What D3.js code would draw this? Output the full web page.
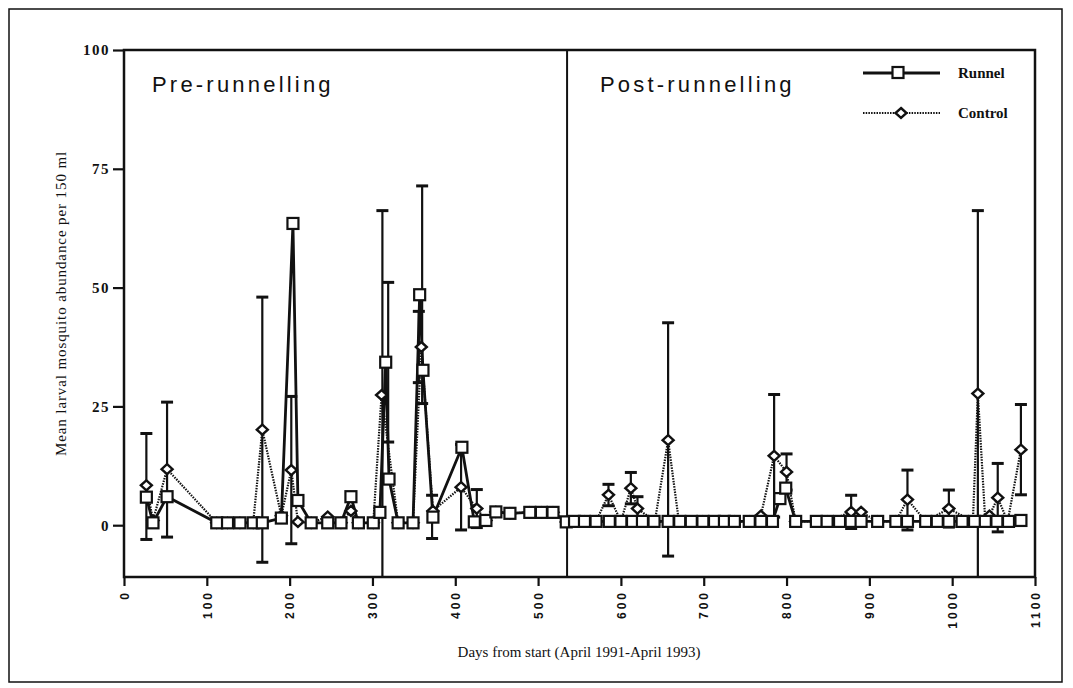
<!doctype html>
<html>
<head>
<meta charset="UTF-8">
<script src="https://d3js.org/d3.v7.min.js"></script>
<style>
  body { margin: 0; background: #fff; }
</style>
</head>
<body>
<script>
// runnel (squares, solid line)
var runnelDays = [27, 35, 52, 112, 125, 140, 156, 167, 190, 204, 210, 226, 246, 262, 274, 283, 301, 309, 316, 320, 331,
  349, 357, 361, 373, 408, 423, 437, 449, 466, 490, 504, 518, 534,
  544, 556, 570, 586, 600, 614, 626, 640, 657, 671, 685, 699, 713, 725, 737, 755, 769, 783, 792, 799, 811,
  836, 849, 864, 878, 890, 910, 932, 946, 968, 982, 996, 1012, 1027, 1040, 1054, 1068, 1083]
var runnelVals = [5.9, 0.5, 6, 0.5, 0.5, 0.5, 0.5, 0.5, 1.5, 63.5, 5.2, 0.5, 0.5, 0.5, 6, 0.5, 0.5, 2.7, 34.3, 9.7, 0.5,
  0.5, 48.5, 32.6, 1.7, 16.4, 0.7, 1, 2.8, 2.5, 2.7, 2.7, 2.7, 0.7,
  0.8, 0.8, 0.8, 0.8, 0.8, 0.8, 0.8, 0.8, 0.8, 0.8, 0.8, 0.8, 0.8, 0.8, 0.8, 0.8, 0.8, 0.8, 5.6, 7.8, 0.8,
  0.8, 0.8, 0.8, 0.8, 0.8, 0.8, 0.8, 0.8, 0.8, 0.8, 0.8, 0.8, 0.8, 0.8, 0.8, 0.8, 1]

// control (diamonds, dotted line)
var controlDays = [27, 35, 52, 112, 125, 140, 156, 167, 190, 202, 210, 226, 246, 262, 274, 283, 301, 311, 331,
  349, 359, 373, 407, 426, 437, 449, 466, 490, 504, 518, 534,
  556, 570, 585, 600, 612, 620, 641, 657, 670, 699, 737, 755, 769, 785, 800, 811,
  849, 878, 890, 910, 932, 946, 968, 996, 1025, 1031, 1040, 1045, 1055, 1067, 1083]
var controlVals = [8.4, 1, 11.8, 0.5, 0.5, 0.5, 0.5, 20.1, 2, 11.6, 0.7, 0.5, 1.8, 0.5, 3, 0.5, 0.5, 27.4, 0.5,
  0.5, 37.5, 3, 8, 3.5, 1, 2.8, 2.5, 2.7, 2.7, 2.7, 0.7,
  0.8, 0.8, 6.4, 0.8, 7.8, 3.5, 0.8, 17.9, 0.8, 0.8, 0.8, 0.8, 2, 14.6, 11.2, 0.8,
  0.8, 2.8, 2.8, 0.8, 0.8, 5.4, 0.8, 3.5, 0.8, 27.7, 0.8, 2, 5.8, 0.8, 15.9]

// error bars: day, low, high
var errDays = [27, 52, 167, 202, 312, 319, 356, 360, 372, 407, 426, 585, 612, 620, 657, 785, 800, 878, 946, 996, 1031, 1055, 1083]
var errLow  = [-3, -2.5, -7.8, -3.9, -11.4, 17.5, 30, 25.6, -2.8, -1, -0.5, 4.1, 4.5, 1, -6.5, 1.7, 7.4, -0.7, -1, -0.4, -11.4, -1.4, 6.4]
var errHigh = [19.3, 25.9, 48, 27.1, 66.2, 51.1, 45, 71.4, 6.3, 17, 7.5, 8.6, 11.1, 6, 42.6, 27.5, 15, 6.3, 11.6, 7.4, 66.2, 13, 25.4]

var yTicks = [0, 25, 50, 75, 100]
var xTicks = d3.range(0, 1101, 100)
var splitDay = 535

var width = 1073, height = 688
var pl = 124, pr = 1035, pt = 50, pb = 577

var svg = d3.select('body').append('svg')
  .attr('width', width)
  .attr('height', height)

var x = d3.scaleLinear().domain([0, 1100]).range([pl, pr])
var y = d3.scaleLinear().domain([-10.9, 100]).range([pb, pt])

// outer border
svg.append('rect')
  .attr('x', 9).attr('y', 9)
  .attr('width', 1053).attr('height', 673)
  .attr('fill', 'none').attr('stroke', '#111').attr('stroke-width', 1.5)

svg.append('clipPath').attr('id', 'plot')
  .append('rect')
  .attr('x', pl).attr('y', pt)
  .attr('width', pr - pl).attr('height', pb - pt)

// axes
var yAxis = svg.append('g')
  .attr('transform', 'translate(' + pl + ',0)')
  .call(d3.axisLeft(y).tickValues(yTicks).tickSize(11).tickPadding(3))
yAxis.select('.domain').remove()
yAxis.selectAll('line').attr('stroke', '#111').attr('stroke-width', 2.2)
yAxis.selectAll('text')
  .style('font-family', '"Liberation Serif", serif')
  .style('font-weight', 'bold')
  .style('font-size', '15px')
  .style('letter-spacing', '1.5px')
  .attr('fill', '#111')

var xAxis = svg.append('g')
  .attr('transform', 'translate(0,' + pb + ')')
  .call(d3.axisBottom(x).tickValues(xTicks).tickSize(9).tickFormat(d3.format('d')))
xAxis.select('.domain').remove()
xAxis.selectAll('line').attr('stroke', '#111').attr('stroke-width', 2.2)
xAxis.selectAll('text')
  .style('font-family', '"Liberation Sans", sans-serif')
  .style('font-weight', 'bold')
  .style('font-size', '12px')
  .style('letter-spacing', '3px')
  .attr('fill', '#111')
  .attr('text-anchor', 'end')
  .attr('dy', '0.35em')
  .attr('y', 0)
  .attr('x', -13)
  .attr('transform', 'rotate(-90)')

// frame + divider
svg.append('rect')
  .attr('x', pl).attr('y', pt)
  .attr('width', pr - pl).attr('height', pb - pt)
  .attr('fill', 'none').attr('stroke', '#111').attr('stroke-width', 2.5)
svg.append('line')
  .attr('x1', x(splitDay)).attr('x2', x(splitDay))
  .attr('y1', pt).attr('y2', pb)
  .attr('stroke', '#111').attr('stroke-width', 2)

svg.append('text')
  .text('Pre-runnelling')
  .attr('x', 152).attr('y', 92)
  .style('font-family', '"Liberation Sans", sans-serif')
  .style('font-size', '22px')
  .style('letter-spacing', '3.2px')
  .attr('fill', '#111')
svg.append('text')
  .text('Post-runnelling')
  .attr('x', 600).attr('y', 92)
  .style('font-family', '"Liberation Sans", sans-serif')
  .style('font-size', '22px')
  .style('letter-spacing', '3.2px')
  .attr('fill', '#111')

svg.append('text')
  .text('Mean larval mosquito abundance per 150 ml')
  .attr('transform', 'translate(66,' + ((pt + pb) / 2 - 10) + ')rotate(-90)')
  .attr('text-anchor', 'middle')
  .style('font-family', '"Liberation Serif", serif')
  .style('font-size', '15px')
  .style('letter-spacing', '0.9px')
  .attr('fill', '#111')

svg.append('text')
  .text('Days from start (April 1991-April 1993)')
  .attr('x', 579).attr('y', 657)
  .attr('text-anchor', 'middle')
  .style('font-family', '"Liberation Serif", serif')
  .style('font-size', '15px')
  .attr('fill', '#111')

// data
var plot = svg.append('g').attr('clip-path', 'url(#plot)')

var runnel = runnelDays.map((d, i) => [d, runnelVals[i]])
var control = controlDays.map((d, i) => [d, controlVals[i]])
var line = d3.line().x(d => x(d[0])).y(d => y(d[1]))

errDays.forEach(function(d, i){
  var g = plot.append('g').attr('stroke', '#111')
  g.append('line')
    .attr('x1', x(d)).attr('x2', x(d))
    .attr('y1', y(errLow[i])).attr('y2', y(errHigh[i]))
    .attr('stroke-width', 2.2)
  g.append('line')
    .attr('x1', x(d) - 6).attr('x2', x(d) + 6)
    .attr('y1', y(errHigh[i])).attr('y2', y(errHigh[i]))
    .attr('stroke-width', 3)
  g.append('line')
    .attr('x1', x(d) - 6).attr('x2', x(d) + 6)
    .attr('y1', y(errLow[i])).attr('y2', y(errLow[i]))
    .attr('stroke-width', 3)
})

plot.append('path')
  .datum(control)
  .attr('d', line)
  .attr('fill', 'none')
  .attr('stroke', '#111')
  .attr('stroke-width', 2.2)
  .attr('stroke-dasharray', '1.5,1.2')

plot.append('path')
  .datum(runnel)
  .attr('d', line)
  .attr('fill', 'none')
  .attr('stroke', '#111')
  .attr('stroke-width', 2.8)

var diamond = 'M0,-5L5.5,0L0,5L-5.5,0Z'
plot.selectAll('.ctl')
  .data(control)
  .enter()
  .append('path')
  .attr('class', 'ctl')
  .attr('d', diamond)
  .attr('transform', d => 'translate(' + x(d[0]) + ',' + y(d[1]) + ')')
  .attr('fill', '#fff')
  .attr('stroke', '#111')
  .attr('stroke-width', 2.4)

plot.selectAll('.run')
  .data(runnel)
  .enter()
  .append('rect')
  .attr('class', 'run')
  .attr('x', d => x(d[0]) - 5.5)
  .attr('y', d => y(d[1]) - 5.5)
  .attr('width', 11).attr('height', 11)
  .attr('fill', '#fff')
  .attr('stroke', '#111')
  .attr('stroke-width', 2.2)

// legend
var lg = svg.append('g')
lg.append('line')
  .attr('x1', 863).attr('x2', 940).attr('y1', 73).attr('y2', 73)
  .attr('stroke', '#111').attr('stroke-width', 2.8)
lg.append('rect')
  .attr('x', 898 - 5.5).attr('y', 73 - 6).attr('width', 11).attr('height', 11)
  .attr('fill', '#fff').attr('stroke', '#111').attr('stroke-width', 2.2)
lg.append('line')
  .attr('x1', 863).attr('x2', 940).attr('y1', 113).attr('y2', 113)
  .attr('stroke', '#111').attr('stroke-width', 2.2).attr('stroke-dasharray', '1.5,1.2')
lg.append('path')
  .attr('d', diamond)
  .attr('transform', 'translate(901,113)')
  .attr('fill', '#fff').attr('stroke', '#111').attr('stroke-width', 2.4)
lg.selectAll('.lt')
  .data(['Runnel', 'Control'])
  .enter()
  .append('text')
  .text(d => d)
  .attr('x', 958)
  .attr('y', (d, i) => 78 + i * 40)
  .style('font-family', '"Liberation Serif", serif')
  .style('font-weight', 'bold')
  .style('font-size', '15px')
  .attr('fill', '#111')
</script>
</body>
</html>
